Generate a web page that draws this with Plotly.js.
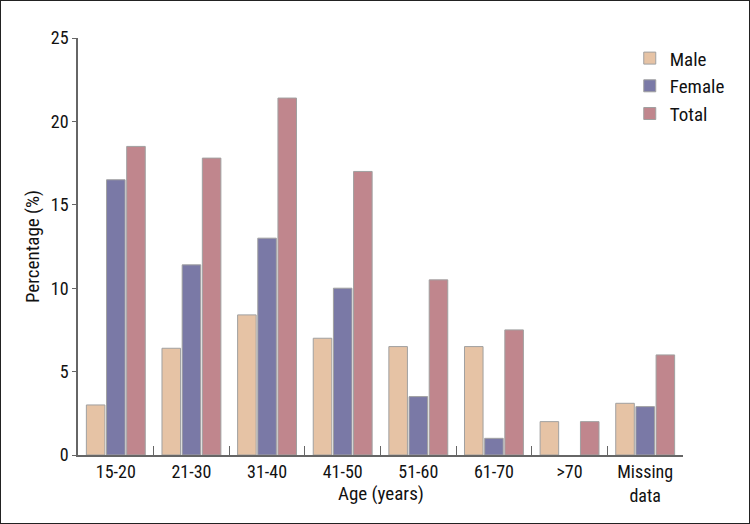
<!DOCTYPE html>
<html>
<head>
<meta charset="utf-8">
<script src="https://cdn.plot.ly/plotly-3.0.1.min.js"></script>
<style>
  body { margin: 0; background: #fff; }
  #chart { width: 748px; height: 522px; border: 1px solid #222; }
</style>
</head>
<body>
<div id="chart"></div>
<script>
const ageGroups = ["15-20", "21-30", "31-40", "41-50", "51-60", "61-70", ">70", "Missing<br>data"];
const malePct   = [3.0, 6.4, 8.4, 7.0, 6.5, 6.5, 2.0, 3.1];
const femalePct = [16.5, 11.4, 13.0, 10.0, 3.5, 1.0, 0, 2.9];
const totalPct  = [18.5, 17.8, 21.4, 17.0, 10.5, 7.5, 2.0, 6.0];

const font = "'Liberation Sans Narrow', 'Arial Narrow', 'Roboto Condensed', sans-serif";
const outline = {color: "#a0a0a0", width: 1};

const traces = [
    {x: ageGroups, y: malePct,   name: "Male",   type: "bar", marker: {color: "#e6c3a5", line: outline}},
    {x: ageGroups, y: femalePct, name: "Female", type: "bar",
     // no outline on the empty >70 bar
     marker: {color: "#7a79a6", line: {color: "#a0a0a0", width: femalePct.map(v => v > 0 ? 1 : 0)}}},
    {x: ageGroups, y: totalPct,  name: "Total",  type: "bar", marker: {color: "#c0868d", line: outline}}
];

const layout = {
    width: 748,
    height: 522,
    margin: {t: 37, r: 66, b: 68, l: 77},
    paper_bgcolor: "#fff",
    plot_bgcolor: "#fff",
    font: {family: font, size: 18, color: "#111"},
    barmode: "group",
    bargap: 0.2,
    bargroupgap: 0.08,
    showlegend: true,
    legend: {x: 0.912, y: 0.997, xanchor: "left", yanchor: "top", font: {size: 19},
             tracegroupgap: 1, itemwidth: 30, bgcolor: "rgba(0,0,0,0)"},
    xaxis: {
        showline: true, linecolor: "#666", linewidth: 1.5,
        ticks: "inside", tickson: "boundaries", ticklen: 9, tickcolor: "#666",
        showgrid: false, zeroline: false, automargin: false
    },
    yaxis: {
        title: {text: "Percentage (%)", standoff: 6, font: {size: 19}},
        range: [0, 25], dtick: 5,
        showline: true, linecolor: "#666", linewidth: 1.5,
        ticks: "outside", ticklen: 4, tickcolor: "#666",
        showgrid: false, zeroline: false, automargin: false
    },
    annotations: [{
        text: "Age (years)", xref: "paper", yref: "paper", x: 0.5, y: -0.092,
        xanchor: "center", yanchor: "middle", showarrow: false, font: {size: 19}
    }]
};

Plotly.newPlot("chart", traces, layout, {displayModeBar: false});
</script>
</body>
</html>
